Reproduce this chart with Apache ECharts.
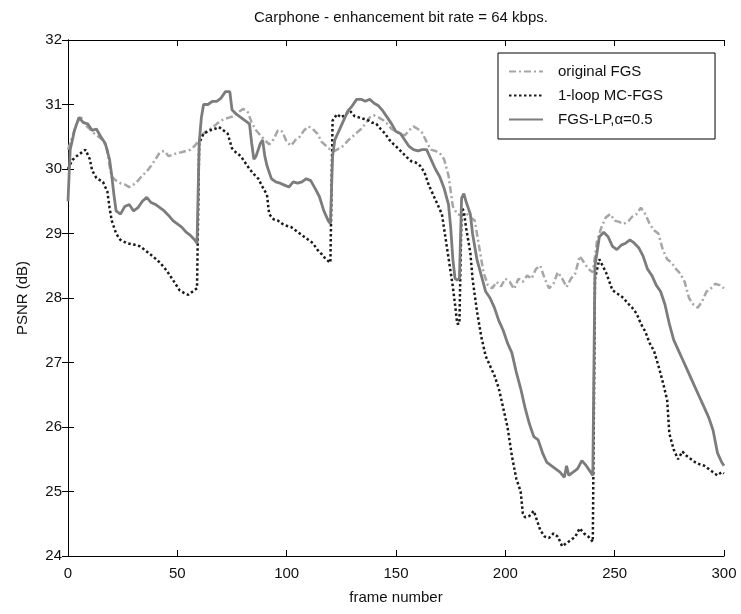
<!DOCTYPE html>
<html>
<head>
<meta charset="utf-8">
<script src="https://cdn.jsdelivr.net/npm/echarts@6/dist/echarts.min.js"></script>
<style>
  html, body { margin: 0; padding: 0; background: #fff; }
  #chart { width: 741px; height: 614px; }
</style>
</head>
<body>
<div id="chart"></div>
<script>
// original FGS
const fgsFrames = [0,2,4,6,8,10,12,14,16,18,19,20,22,24,26,28,30,32,34,36,38,40,42,44,46,48,50,52,54,56,58,60,62,64,66,68,70,72,74,76,78,80,82,84,86,88,90,92,94,96,98,100,102,104,106,108,110,112,114,116,118,120,122,124,126,128,130,132,134,136,138,140,142,144,146,148,150,152,154,156,158,160,162,164,166,168,170,172,174,176,178,180,182,184,186,188,190,192,194,196,198,200,202,204,206,208,210,212,214,216,218,220,222,224,226,228,230,232,234,236,238,240,242,244,246,248,250,252,254,256,258,260,262,264,266,268,270,272,274,276,278,280,282,284,286,288,290,292,294,296,298,300];
const fgsPsnr = [30.3,30.5,30.72,30.8,30.68,30.62,30.55,30.5,30.45,30.3,30.05,29.88,29.82,29.78,29.76,29.72,29.76,29.82,29.9,29.96,30.05,30.15,30.26,30.28,30.2,30.22,30.25,30.26,30.28,30.3,30.36,30.45,30.55,30.6,30.64,30.7,30.75,30.78,30.8,30.82,30.88,30.93,30.9,30.72,30.6,30.52,30.45,30.38,30.46,30.6,30.58,30.42,30.36,30.45,30.5,30.6,30.66,30.62,30.55,30.42,30.36,30.3,30.28,30.32,30.36,30.44,30.5,30.56,30.62,30.7,30.8,30.83,30.8,30.76,30.7,30.62,30.58,30.55,30.52,30.6,30.66,30.62,30.56,30.42,30.3,30.28,30.25,30.15,29.9,29.42,29.3,29.28,29.32,29.25,29.2,28.8,28.4,28.2,28.15,28.25,28.18,28.3,28.25,28.14,28.3,28.25,28.35,28.3,28.45,28.5,28.3,28.15,28.22,28.4,28.3,28.17,28.3,28.38,28.65,28.55,28.45,28.4,28.9,29.1,29.25,29.3,29.2,29.18,29.15,29.18,29.26,29.3,29.4,29.3,29.15,29.05,29.0,28.75,28.6,28.55,28.45,28.38,28.25,28.0,27.9,27.85,27.95,28.1,28.15,28.22,28.2,28.15];

// 1-loop MC-FGS
const mcFrames = [0,2,4,6,8,10,11,13,15,16,18,19,20,22,24,27,30,33,36,39,42,45,48,51,53,55,57,59,60,62,65,67,69,71,73,75,77,79,81,83,85,87,89,91,92,94,96,98,100,102,104,106,108,110,112,114,116,118,120,121,123,125,127,129,131,133,135,137,139,141,143,145,147,149,151,153,155,157,159,161,163,165,167,169,171,173,175,176,177,178,179,180,181,182,184,185,187,189,191,193,195,197,199,201,203,205,207,208,209,211,213,214,216,218,220,222,224,226,228,230,232,234,236,238,240,241,243,246,249,252,254,256,258,260,262,264,266,268,270,272,274,275,277,279,281,283,285,287,289,291,293,295,297,299,300];
const mcPsnr = [30.0,30.14,30.2,30.25,30.3,30.15,29.98,29.86,29.82,29.8,29.65,29.4,29.2,29.0,28.9,28.85,28.83,28.8,28.72,28.64,28.55,28.43,28.28,28.12,28.08,28.05,28.1,28.15,30.4,30.55,30.6,30.62,30.65,30.6,30.55,30.32,30.25,30.2,30.1,30.0,29.92,29.85,29.72,29.6,29.3,29.22,29.2,29.15,29.12,29.1,29.05,29.0,28.95,28.9,28.85,28.75,28.68,28.6,28.55,30.75,30.85,30.8,30.85,30.9,30.82,30.8,30.78,30.76,30.72,30.7,30.62,30.55,30.45,30.38,30.32,30.25,30.18,30.12,30.1,30.05,29.95,29.75,29.6,29.45,29.3,28.85,28.4,28.17,27.9,27.6,27.6,29.4,29.35,29.1,28.7,28.3,27.8,27.4,27.1,26.95,26.8,26.6,26.3,26.0,25.55,25.2,25.0,24.66,24.6,24.62,24.7,24.6,24.4,24.3,24.28,24.35,24.3,24.15,24.2,24.25,24.3,24.43,24.35,24.3,24.22,28.3,28.6,28.4,28.12,28.05,28.0,27.92,27.85,27.76,27.6,27.48,27.3,27.18,26.95,26.7,26.42,25.9,25.65,25.5,25.62,25.55,25.5,25.45,25.42,25.4,25.35,25.3,25.25,25.3,25.28];

// FGS-LP, alpha = 0.5
const lpFrames = [0,1,3,5,7,9,11,13,15,17,19,20,21,22,24,26,28,30,32,34,36,38,40,42,44,46,48,50,52,54,56,58,59,60,61,62,64,66,68,70,72,74,75,77,79,81,83,84,85,86,88,89,90,91,93,95,97,99,101,103,105,107,109,111,113,115,117,119,120,121,122,124,126,128,130,132,134,136,138,140,142,144,146,148,150,152,154,156,158,160,162,164,166,168,170,172,174,175,176,177,178,179,180,181,182,183,184,185,187,189,191,193,195,197,199,201,203,205,207,209,211,213,215,217,219,221,223,225,227,228,229,231,233,235,237,239,240,241,243,245,247,249,251,253,255,257,259,261,263,265,267,269,271,273,275,277,279,281,283,285,287,289,291,293,295,297,299,300];
const lpPsnr = [29.5,30.3,30.6,30.8,30.72,30.7,30.6,30.62,30.5,30.4,30.15,29.9,29.6,29.35,29.3,29.42,29.45,29.35,29.4,29.5,29.56,29.48,29.45,29.4,29.35,29.28,29.2,29.15,29.1,29.02,28.97,28.9,28.85,30.4,30.8,31.0,31.0,31.05,31.05,31.1,31.2,31.2,30.92,30.85,30.8,30.75,30.7,30.4,30.15,30.2,30.4,30.45,30.2,30.05,29.85,29.8,29.78,29.75,29.72,29.8,29.78,29.8,29.85,29.82,29.7,29.57,29.35,29.2,29.15,30.2,30.45,30.6,30.75,30.9,30.98,31.08,31.08,31.05,31.08,31.02,30.98,30.9,30.8,30.7,30.58,30.55,30.45,30.35,30.3,30.28,30.3,30.3,30.15,30.0,29.88,29.7,29.45,29.1,28.6,28.3,28.28,28.3,29.55,29.62,29.5,29.4,29.3,29.0,28.6,28.35,28.1,28.0,27.85,27.65,27.5,27.3,27.15,26.85,26.6,26.3,26.05,25.85,25.8,25.6,25.45,25.4,25.35,25.3,25.22,25.4,25.25,25.3,25.35,25.48,25.4,25.3,25.25,28.5,28.95,29.02,28.95,28.8,28.75,28.82,28.85,28.9,28.85,28.78,28.65,28.45,28.35,28.2,28.1,27.9,27.6,27.35,27.2,27.05,26.9,26.75,26.6,26.45,26.3,26.15,25.95,25.6,25.45,25.4];

const xTicks = [0, 300, 50];
const yTicks = [24, 32, 1];
const seriesNames = ['original FGS', '1-loop MC-FGS', 'FGS-LP,\u03B1=0.5'];

const pairs = (fs, vs) => fs.map((f, i) => [f, vs[i]]);

const font = '"Liberation Sans", Arial, sans-serif';

const chart = echarts.init(document.getElementById('chart'));

const boxAxis = (pos, type) => ({
  type: 'value',
  position: pos,
  min: type[0], max: type[1], interval: type[2],
  axisLine: { show: true, lineStyle: { color: '#000', width: 1 } },
  axisTick: { show: true, inside: true, length: 6, lineStyle: { color: '#000' } },
  axisLabel: { show: false },
  splitLine: { show: false }
});

const option = {
  animation: false,
  backgroundColor: '#fff',
  title: {
    text: 'Carphone - enhancement bit rate = 64 kbps.',
    left: 396, top: 5, textAlign: 'center',
    textStyle: { fontFamily: font, fontSize: 15, fontWeight: 'normal', color: '#111' }
  },
  grid: { left: 68, right: 17, top: 40, bottom: 58 },
  legend: {
    orient: 'vertical',
    left: 498, top: 53,
    padding: [11, 52, 12, 10],
    itemGap: 9,
    itemWidth: 34, itemHeight: 14,
    icon: 'inherit',
    itemStyle: { opacity: 0 },
    borderColor: '#000', borderWidth: 1,
    backgroundColor: '#fff',
    textStyle: { fontFamily: font, fontSize: 15, color: '#111', padding: [0, 0, 0, 10] },
    data: seriesNames
  },
  xAxis: [
    Object.assign(boxAxis('bottom', xTicks), {
      axisLabel: { show: true, color: '#111', fontFamily: font, fontSize: 15, margin: 10 },
      name: 'frame number', nameLocation: 'middle', nameGap: 34,
      nameTextStyle: { fontFamily: font, fontSize: 15, color: '#111' }
    }),
    boxAxis('top', xTicks)
  ],
  yAxis: [
    Object.assign(boxAxis('left', yTicks), {
      axisLabel: { show: true, color: '#111', fontFamily: font, fontSize: 15, margin: 6 },
      name: 'PSNR (dB)', nameLocation: 'middle', nameGap: 38,
      nameTextStyle: { fontFamily: font, fontSize: 15, color: '#111' }
    }),
    boxAxis('right', yTicks)
  ],
  series: [
    {
      name: seriesNames[0], type: 'line', symbol: 'none',
      data: pairs(fgsFrames, fgsPsnr),
      lineStyle: { color: '#a6a6a6', width: 2.5, type: [7, 3, 2, 3] },
      itemStyle: { color: '#a6a6a6' }, z: 2
    },
    {
      name: seriesNames[1], type: 'line', symbol: 'none',
      data: pairs(mcFrames, mcPsnr),
      lineStyle: { color: '#1a1a1a', width: 2.5, type: [2.5, 2.5] },
      itemStyle: { color: '#1a1a1a' }, z: 3
    },
    {
      name: seriesNames[2], type: 'line', symbol: 'none',
      data: pairs(lpFrames, lpPsnr),
      lineStyle: { color: '#7c7c7c', width: 2.8 },
      itemStyle: { color: '#7c7c7c' }, z: 4
    }
  ]
};

chart.setOption(option);
</script>
</body>
</html>
